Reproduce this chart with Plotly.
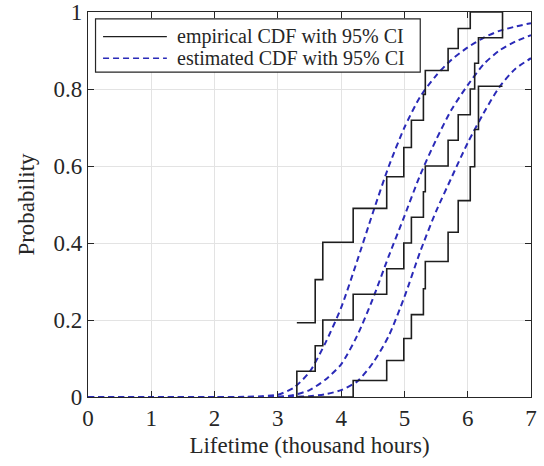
import plotly.graph_objects as go

# ---- data ----
# empirical CDF jump points (thousand hours)
ecdf_x = [3.30, 3.59, 3.71, 4.19, 4.72, 4.99, 5.11, 5.30, 5.33, 5.69, 5.85, 6.04, 6.11, 6.17, 6.55]
ecdf_F = [0.067, 0.133, 0.200, 0.267, 0.333, 0.400, 0.467, 0.533, 0.600, 0.667, 0.733, 0.800, 0.867, 0.933, 1.000]
ecdf_lo = [0.0, 0.0, 0.0, 0.043, 0.095, 0.152, 0.214, 0.281, 0.352, 0.428, 0.510, 0.598, 0.695, 0.807, 0.807]
ecdf_hi = [0.193, 0.305, 0.402, 0.490, 0.572, 0.648, 0.719, 0.786, 0.848, 0.905, 0.957, 1.0, 1.0, 1.0, 1.0]

# estimated (fitted) CDF with confidence band
fit_x = [0, 1, 2, 2.5, 2.75, 3.0, 3.25, 3.5, 3.75, 4.0, 4.25, 4.5, 4.75, 5.0, 5.25, 5.5, 5.75, 6.0, 6.25, 6.5, 6.75, 7.0]
fit_F = [0, 0, 0, 0, 0.0002, 0.0005, 0.005, 0.018, 0.045, 0.085, 0.158, 0.255, 0.365, 0.470, 0.577, 0.668, 0.748, 0.810, 0.864, 0.900, 0.923, 0.940]
fit_hi = [0, 0, 0, 0.0005, 0.002, 0.006, 0.024, 0.065, 0.140, 0.232, 0.352, 0.478, 0.598, 0.700, 0.780, 0.835, 0.877, 0.908, 0.933, 0.951, 0.962, 0.971]
fit_lo = [0, 0, 0, 0, 0, 0, 0.0005, 0.002, 0.007, 0.018, 0.040, 0.088, 0.158, 0.260, 0.378, 0.482, 0.572, 0.660, 0.737, 0.805, 0.852, 0.880]

x_ticks = [0, 1, 2, 3, 4, 5, 6, 7]
y_ticks = [0, 0.2, 0.4, 0.6, 0.8, 1]
y_ticktext = ["0", "0.2", "0.4", "0.6", "0.8", "1"]
legend_labels = ["empirical CDF with 95% CI", "estimated CDF with 95% CI"]

BLACK = "#1e1e1e"
BLUE = "#2a2ab8"
AXC = "#262626"
FONT = "Liberation Serif, DejaVu Serif, serif"
DASH = "6px,4px"

fig = go.Figure()

# fitted CDF and bounds (blue dashed)
for ys in (fit_hi, fit_F, fit_lo):
    fig.add_trace(go.Scatter(
        x=fit_x, y=ys, mode="lines", showlegend=False,
        line=dict(color=BLUE, width=2, dash=DASH, shape="spline", smoothing=0.7),
    ))

# empirical CDF and bounds (black stairs)
fig.add_trace(go.Scatter(
    x=[ecdf_x[0]] + ecdf_x, y=[0] + ecdf_F, mode="lines", showlegend=False,
    line=dict(color=BLACK, width=1.6, shape="hv"),
))
for ys in (ecdf_lo, ecdf_hi):
    fig.add_trace(go.Scatter(
        x=ecdf_x, y=ys, mode="lines", showlegend=False,
        line=dict(color=BLACK, width=1.6, shape="hv"),
    ))

axis_common = dict(
    showgrid=True, gridcolor="#e3e3e3", gridwidth=1,
    showline=True, linecolor=AXC, linewidth=1.2, mirror="ticks",
    ticks="inside", ticklen=6, tickcolor=AXC,
    tickfont=dict(family=FONT, size=23, color=AXC),
    zeroline=False, automargin=False,
)

# legend box drawn MATLAB-style (paper coordinates of the plot area)
ROW1, ROW2 = 0.936, 0.880
shapes = [
    dict(type="rect", xref="paper", yref="paper", x0=0.017, x1=0.75, y0=0.844, y1=0.982,
         fillcolor="white", line=dict(color=AXC, width=1.2), layer="above"),
    dict(type="line", xref="paper", yref="paper", x0=0.034, x1=0.178, y0=ROW1, y1=ROW1,
         line=dict(color=BLACK, width=1.4), layer="above"),
    dict(type="line", xref="paper", yref="paper", x0=0.034, x1=0.178, y0=ROW2, y1=ROW2,
         line=dict(color=BLUE, width=1.6, dash=DASH), layer="above"),
]
annotations = [
    dict(xref="paper", yref="paper", x=0.199, y=ROW1, text=legend_labels[0], showarrow=False,
         xanchor="left", yanchor="middle", borderpad=0, font=dict(family=FONT, size=20, color=AXC)),
    dict(xref="paper", yref="paper", x=0.199, y=ROW2, text=legend_labels[1], showarrow=False,
         xanchor="left", yanchor="middle", borderpad=0, font=dict(family=FONT, size=20, color=AXC)),
]

fig.update_layout(
    width=544, height=466,
    margin=dict(l=88, r=13, t=12, b=69),
    paper_bgcolor="white", plot_bgcolor="white",
    font=dict(family=FONT, color=AXC),
    showlegend=False,
    shapes=shapes, annotations=annotations,
    xaxis=dict(range=[0, 7], tickvals=x_ticks, ticktext=[str(v) for v in x_ticks],
               title=dict(text="Lifetime (thousand hours)", font=dict(family=FONT, size=23), standoff=7),
               **axis_common),
    yaxis=dict(range=[0, 1], tickvals=y_ticks, ticktext=y_ticktext,
               title=dict(text="Probability", font=dict(family=FONT, size=23), standoff=12),
               **axis_common),
)

fig.write_html("out.html")
